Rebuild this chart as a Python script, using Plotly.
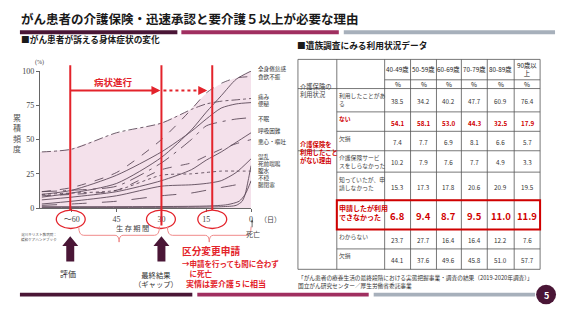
import numpy as np
import plotly.graph_objects as go

W, H = 569, 320


def X(p):
    return p / W


def Y(p):
    return 1 - p / H


# ---------------- data: symptom curves (days before death -> cumulative %)
days = [70, 60, 45, 30, 20, 15, 10, 5, 0]
fatigue = [8, 11, 18, 37, 57, 70, 82, 94, 100]
anorexia = [12, 15, 26, 50, 72, 84, 91, 95, 96]
pain = [41, 43, 55, 62, 72, 76, 78, 79, 80]
constipation = [10, 13, 24, 41, 56, 65, 73, 76, 77]
insomnia = [12, 13, 16, 33, 50, 60, 63, 65, 66]
dyspnea = [6, 8, 12, 20, 28, 35, 41, 48, 55]
nausea = [9, 10, 13, 28, 33, 38, 43, 47, 50]
delirium = [3, 5, 9, 16, 17, 18, 20, 26, 36]
ascites = [10, 11, 13, 24, 25, 26, 27, 27, 27]
restless = [2, 3, 5, 9, 11, 13, 15, 17, 19]
rattle_days = [70, 10, 5, 3, 2, 1, 0]
rattle = [0.5, 1, 2, 5, 10, 20, 31]
ileus_days = [70, 15, 8, 4, 2, 0]
ileus = [1, 1.5, 2.5, 5, 10, 20]

symptom_names = ["全身倦怠感", "食欲不振", "痛み", "便秘", "不眠", "呼吸困難",
                 "悪心・嘔吐", "混乱", "死前喘鳴", "腹水", "不穏", "腸閉塞"]
symptom_x = [days, days, days, days, days, days, days, days,
             rattle_days, days, days, ileus_days]
symptom_y = [fatigue, anorexia, pain, constipation, insomnia, dyspnea,
             nausea, delirium, rattle, ascites, restless, ileus]

x_tickvals = [60, 45, 30, 15, 0]
x_ticktext = ["〜60", "45", "30", "15", "0"]
y_tickvals = [0, 25, 50, 75, 100]
phase_days = [60.5, 30, 13]

# ---------------- data: table
age_groups = ["40-49歳", "50-59歳", "60-69歳", "70-79歳", "80-89歳", "90歳以<br>上"]
used = [38.5, 34.2, 40.2, 47.7, 60.9, 76.4]
not_used = [54.1, 58.1, 53.0, 44.3, 32.5, 17.9]
missing1 = [7.4, 7.7, 6.9, 8.1, 6.6, 5.7]
didnt_know = [10.2, 7.9, 7.6, 7.7, 4.9, 3.3]
knew_not_applied = [15.3, 17.3, 17.8, 20.6, 20.9, 19.5]
applied_unable = [6.8, 9.4, 8.7, 9.5, 11.0, 11.9]
unknown = [23.7, 27.7, 16.4, 16.4, 12.2, 7.6]
missing2 = [44.1, 37.6, 49.6, 45.8, 51.0, 57.7]
row_labels = ["利用したことがあ<br>る", "ない", "欠損", "介護保険サービ<br>スをしらなかった",
              "知っていたが、申<br>請しなかった", "申請したが利用<br>できなかった",
              "わからない", "欠損"]
row_values = [used, not_used, missing1, didnt_know, knew_not_applied,
              applied_unable, unknown, missing2]

# ---------------- styles
FONT = "Noto Sans CJK JP"
SERIF = "Liberation Serif, Noto Sans CJK JP"
RED = "#e3232b"
TRED = "#d00000"
DARK = "#4a1636"
MAG = "#a02f60"
GREY = "#a7b0bb"
LINEC = "#5e4b5a"
dashes = ["solid", "dash", "dashdot", "solid", "longdashdot", "solid",
          "dash", "solid", "solid", "dot", "longdash", "solid"]
label_py = [67, 75, 95.5, 103, 118, 131, 142, 157, 164.3, 171.6, 178.9, 186.2]

fig = go.Figure()

# pink envelope fill computed from the curves
grid = np.linspace(0, 70.7, 400)
env = np.zeros_like(grid)
for xs, ys in zip(symptom_x, symptom_y):
    env = np.maximum(env, np.interp(grid, xs[::-1], ys[::-1]))
fig.add_trace(go.Scatter(x=grid, y=env, mode="lines", fill="tozeroy",
                         fillcolor="#f4e1eb", line=dict(width=0),
                         hoverinfo="skip", showlegend=False))

for name, xs, ys, d in zip(symptom_names, symptom_x, symptom_y, dashes):
    fig.add_trace(go.Scatter(x=xs, y=ys, mode="lines", name=name,
                             line=dict(color=LINEC, width=0.9, dash=d,
                                       shape="spline", smoothing=0.7),
                             showlegend=False))

shapes = []
ann = []


def text(x, y, s, size, color="#333", bold=False, xa="left", ya="middle",
         family=FONT, align="left"):
    if bold:
        s = "<b>" + s.replace("<br>", "</b><br><b>") + "</b>"
    ann.append(dict(x=X(x), y=Y(y), xref="paper", yref="paper", text=s,
                    showarrow=False, xanchor=xa, yanchor=ya, align=align,
                    font=dict(size=size, color=color, family=family),
                    borderpad=0))


def hline(x0, x1, y, color, width, dash="solid"):
    shapes.append(dict(type="line", xref="paper", yref="paper", x0=X(x0), x1=X(x1),
                       y0=Y(y), y1=Y(y), line=dict(color=color, width=width, dash=dash)))


def vline(x, y0, y1, color, width):
    shapes.append(dict(type="line", xref="paper", yref="paper", x0=X(x), x1=X(x),
                       y0=Y(y0), y1=Y(y1), line=dict(color=color, width=width)))


def path(pts, close=False):
    s = "M " + " L ".join(f"{X(a):.5f},{Y(b):.5f}" for a, b in pts)
    return s + (" Z" if close else "")


# header / title
text(20, 15, "がん患者の介護保険・迅速承認と要介護５以上が必要な理由", 12.5, "#1a1a1a", True)
for x0, x1, c in [(20, 178, DARK), (182, 340, MAG), (345, 557, GREY)]:
    shapes.append(dict(type="rect", xref="paper", yref="paper", x0=X(x0), x1=X(x1),
                       y0=Y(31), y1=Y(27), fillcolor=c, line=dict(width=0)))
for x0, x1, c in [(20, 193, DARK), (198, 370, MAG), (375, 537, GREY)]:
    shapes.append(dict(type="rect", xref="paper", yref="paper", x0=X(x0), x1=X(x1),
                       y0=Y(301), y1=Y(297), fillcolor=c, line=dict(width=0)))
shapes.append(dict(type="circle", xref="paper", yref="paper", x0=X(538), x1=X(558),
                   y0=Y(309), y1=Y(289), fillcolor=DARK, line=dict(width=0)))
text(548, 299.5, "5", 9, "white", True, xa="center")

text(20, 37, "■がん患者が訴える身体症状の変化", 8.7, "#1a1a1a", True)
text(297, 43, "■遺族調査にみる利用状況データ", 8.7, "#1a1a1a", True)

# ---------------- chart decorations
text(40, 60, "(%)", 6, "#444", family=SERIF, xa="center")
text(17, 133, "累<br>積<br>頻<br>度", 8, "#555", xa="center", align="center")
for name, yy in zip(symptom_names, label_py):
    text(258, yy, name, 5.6, "#333")
text(133, 230.5, "生\u2009存\u2009期\u2009間", 7.2, "#444", xa="center")
text(260, 221, "（日）", 7, "#444")
text(254, 237, "死亡", 7, "#444", xa="center")
ann.append(dict(x=X(253), y=Y(222), xref="paper", yref="paper", text="", showarrow=True,
                ax=0, ay=9, arrowhead=2, arrowsize=0.6, arrowwidth=0.8, arrowcolor="#444"))

for d, yb in zip(phase_days, [212, 228, 212]):
    shapes.append(dict(type="line", xref="x", yref="paper", x0=d, x1=d,
                       y0=Y(63), y1=Y(yb), line=dict(color=RED, width=2)))

text(114, 80, "病状進行", 9.5, RED, True, xa="center")
ann.append(dict(x=X(161), y=Y(89), xref="paper", yref="paper", text="", showarrow=True,
                ax=-91, ay=0, arrowhead=2, arrowsize=1, arrowwidth=1.8, arrowcolor=RED))
hline(164, 204, 89, RED, 1.8, "dot")
ann.append(dict(x=X(208), y=Y(89), xref="paper", yref="paper", text="", showarrow=True,
                ax=-5, ay=0, arrowhead=2, arrowsize=1, arrowwidth=1.8, arrowcolor=RED))

for cx in [71, 161.5, 213]:
    shapes.append(dict(type="circle", xref="paper", yref="paper", x0=X(cx - 14.5), x1=X(cx + 14.5),
                       y0=Y(231), y1=Y(212), line=dict(color=RED, width=1.3)))


def brace(x0, x1, top, bot):
    m = (x0 + x1) / 2
    mid = (top + bot) / 2 + 1
    pts = (f"M {X(x0):.5f},{Y(top):.5f} Q {X(x0):.5f},{Y(mid):.5f} {X(x0 + 5):.5f},{Y(mid):.5f} "
           f"L {X(m - 4):.5f},{Y(mid):.5f} Q {X(m):.5f},{Y(mid):.5f} {X(m):.5f},{Y(bot):.5f} "
           f"Q {X(m):.5f},{Y(mid):.5f} {X(m + 4):.5f},{Y(mid):.5f} "
           f"L {X(x1 - 5):.5f},{Y(mid):.5f} Q {X(x1):.5f},{Y(mid):.5f} {X(x1):.5f},{Y(top):.5f}")
    shapes.append(dict(type="path", xref="paper", yref="paper", path=pts,
                       line=dict(color="#f08a8a", width=1)))


brace(79, 160, 229, 245)
brace(168, 252, 229, 245)

for cx in [70.5, 162]:
    pts = [(cx, 239), (cx + 8, 249), (cx + 4, 249), (cx + 4, 265), (cx - 4, 265),
           (cx - 4, 249), (cx - 8, 249)]
    shapes.append(dict(type="path", xref="paper", yref="paper", path=path(pts, True),
                       fillcolor=DARK, line=dict(width=0)))

text(20, 240, "淀川キリスト教病院：<br>緩和ケアハンドブック", 3.6, "#555")
text(68.5, 277, "評価", 8, "#333", xa="center")
text(157, 283, "最終結果<br>（ギャップ）", 7.3, "#333", xa="center", align="center")
text(182, 254, "区分変更申請", 9.7, RED, True)
text(182, 272, "→申請を行っても間に合わず<br>\u3000に死亡", 7.5, RED, True)
text(186, 287.5, "実情は要介護５に相当", 8, RED, True)

# ---------------- table
col_x = [299, 338, 386, 412, 438, 463, 489, 516, 542]
row_y = [57, 78, 87, 111, 131, 151, 173, 202, 232, 252, 273]
TL = "#555"
for cx in col_x:
    vline(cx, 57, 273, TL, 0.8)
for yy in [57, 87, 151, 273]:
    hline(299, 542, yy, TL, 0.8)
hline(386, 542, 78, TL, 0.8)
for yy in [111, 131, 173, 202, 232, 252]:
    hline(338, 542, yy, TL, 0.8)

centers = [(col_x[i] + col_x[i + 1]) / 2 for i in range(2, 8)]
for cx, g in zip(centers, age_groups):
    text(cx, 67.5, g, 6.3, "#222", xa="center", align="center")
    text(cx, 82.7, "%", 6.5, "#222", xa="center")

text(300, 88.5, "介護保険の<br>利用状況", 6.3, "#444")
text(300, 152.5, "介護保険を<br>利用したこと<br>がない理由", 6.3, TRED, True)

for i, (lab, vals) in enumerate(zip(row_labels, row_values)):
    top, bot = row_y[i + 2], row_y[i + 3]
    red = i in (1, 5)
    big = i == 5
    text(339, top + 1.5, lab, 7 if big else 5.8, TRED if red else "#444", red, ya="top")
    for cx, v in zip(centers, vals):
        text(cx, (top + bot) / 2 + 1.5, f"{v:.1f}", 9.5 if big else 6.3,
             TRED if red else "#333", red, xa="center")

shapes.append(dict(type="rect", xref="paper", yref="paper", x0=X(338), x1=X(542),
                   y0=Y(232), y1=Y(202), line=dict(color=TRED, width=2)))

text(298, 281.5, "「がん患者の療養生活の最終段階における実態把握事業・調査の結果（2019-2020年調査）」", 5.7, "#333")
text(298, 290, "国立がん研究センター／厚生労働省委託事業", 5.7, "#333")

fig.update_layout(
    width=W, height=H, autosize=False,
    margin=dict(l=0, r=0, t=0, b=0),
    paper_bgcolor="white", plot_bgcolor="rgba(0,0,0,0)",
    showlegend=False,
    xaxis=dict(domain=[X(40), X(252)], range=[70.67, 0], showgrid=False, zeroline=False,
               showline=True, linecolor="#666", linewidth=1, ticks="outside", ticklen=3,
               tickcolor="#666", tickvals=x_tickvals, ticktext=x_ticktext,
               tickfont=dict(family=SERIF, size=8, color="#444")),
    yaxis=dict(domain=[Y(210), Y(69)], range=[0, 100], showgrid=False, zeroline=False,
               showline=True, linecolor="#666", linewidth=1, ticks="outside", ticklen=3,
               tickcolor="#666", tickvals=y_tickvals,
               tickfont=dict(family=SERIF, size=8, color="#444")),
    shapes=shapes, annotations=ann,
)

fig.write_html("out.html")
